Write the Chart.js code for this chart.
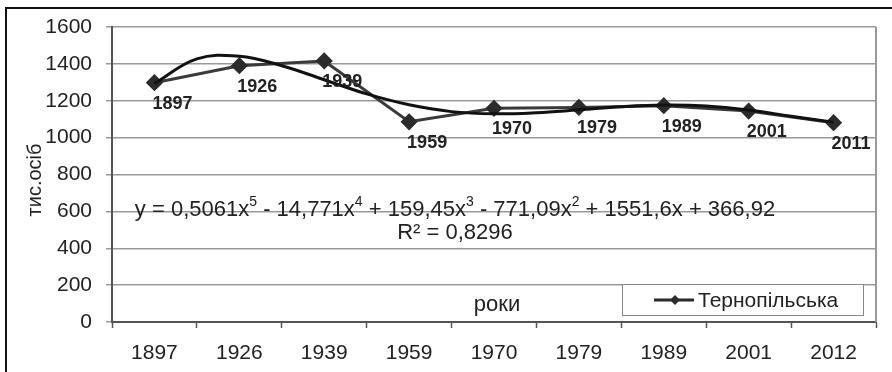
<!DOCTYPE html>
<html>
<head>
<meta charset="utf-8">
<script src="https://cdn.jsdelivr.net/npm/chart.js@4/dist/chart.umd.min.js"></script>
<style>
  html, body { margin: 0; padding: 0; background: #fff; }
  #wrap { width: 892px; height: 372px; position: relative; }
</style>
</head>
<body>
<div id="wrap"><canvas id="myChart" width="892" height="372"></canvas></div>
<script>
// categories on the axis, labels beside each point
const years = ['1897', '1926', '1939', '1959', '1970', '1979', '1989', '2001', '2012'];
const pointLabels = ['1897', '1926', '1939', '1959', '1970', '1979', '1989', '2001', '2011'];
// population, thousand people
const population = [1298, 1390, 1416, 1086, 1159, 1164, 1173, 1144, 1081];
// polynomial trend at half steps
const trendX = [1, 1.5, 2, 2.5, 3, 3.5, 4, 4.5, 5, 5.5, 6, 6.5, 7, 7.5, 8, 8.5, 9];
const trendY = [1293, 1427, 1441, 1390, 1314, 1237, 1178, 1141, 1129, 1135, 1151, 1168, 1177, 1172, 1150, 1116, 1084];
const yTicks = [0, 200, 400, 600, 800, 1000, 1200, 1400, 1600];

const FONT = "'Liberation Sans', Arial, sans-serif";

const extras = {
	id: 'extras',
	afterDraw(chart) {
		const ctx = chart.ctx;
		const meta = chart.getDatasetMeta(1);
		ctx.save();

		// frame
		ctx.strokeStyle = '#111';
		ctx.lineWidth = 2;
		ctx.strokeRect(6, 8, 950, 450);

		// point labels
		ctx.font = 'bold 18px ' + FONT;
		ctx.fillStyle = '#222';
		ctx.textAlign = 'left';
		ctx.textBaseline = 'middle';
		meta.data.forEach((p, i) => {
			ctx.fillText(pointLabels[i], p.x - 2, p.y + 21);
		});

		// axis title
		ctx.save();
		ctx.translate(35, 180);
		ctx.rotate(-Math.PI / 2);
		ctx.textAlign = 'center';
		ctx.font = '20px ' + FONT;
		ctx.fillText('тис.осіб', 0, 0);
		ctx.restore();

		// equation with superscripts
		const parts = [['y = 0,5061x', 0], ['5', 1], [' - 14,771x', 0], ['4', 1], [' + 159,45x', 0], ['3', 1],
			[' - 771,09x', 0], ['2', 1], [' + 1551,6x + 366,92', 0]];
		const big = '22px ' + FONT, small = '14px ' + FONT;
		let total = 0;
		for (let [t, s] of parts) { ctx.font = s ? small : big; total += ctx.measureText(t).width; }
		let x = 455 - total / 2;
		ctx.textAlign = 'left';
		for (let [t, s] of parts) {
			ctx.font = s ? small : big;
			ctx.fillText(t, x, s ? 202 : 210);
			x += ctx.measureText(t).width;
		}
		ctx.font = big;
		ctx.textAlign = 'center';
		ctx.fillText('R² = 0,8296', 455, 233);

		// x title
		ctx.fillText('роки', 497, 305);

		// legend
		ctx.fillStyle = '#fff';
		ctx.fillRect(622, 284, 241, 31);
		ctx.strokeStyle = '#888';
		ctx.lineWidth = 1;
		ctx.strokeRect(622.5, 284.5, 241, 31);
		ctx.strokeStyle = '#2b2b2b';
		ctx.lineWidth = 3;
		ctx.beginPath();
		ctx.moveTo(654, 300);
		ctx.lineTo(694, 300);
		ctx.stroke();
		ctx.fillStyle = '#2b2b2b';
		ctx.beginPath();
		ctx.moveTo(675, 295); ctx.lineTo(680, 300); ctx.lineTo(675, 305); ctx.lineTo(670, 300);
		ctx.closePath();
		ctx.fill();
		ctx.fillStyle = '#222';
		ctx.textAlign = 'left';
		ctx.font = '21px ' + FONT;
		ctx.fillText('Тернопільська', 698, 301);

		ctx.restore();
	}
};

new Chart(document.getElementById('myChart'), {
	type: 'line',
	data: {
		labels: years,
		datasets: [
			{
				label: 'trend',
				data: trendX.map((v, i) => ({ x: v, y: trendY[i] })),
				xAxisID: 'xt',
				borderColor: '#111',
				borderWidth: 3,
				pointRadius: 0,
				tension: 0.4,
				fill: false
			},
			{
				label: 'Тернопільська',
				data: population,
				xAxisID: 'x',
				borderColor: '#3a3a3a',
				borderWidth: 3,
				pointStyle: 'rectRot',
				pointRadius: 6.5,
				pointBackgroundColor: '#2b2b2b',
				pointBorderColor: '#2b2b2b',
				tension: 0
			}
		]
	},
	options: {
		responsive: false,
		animation: false,
		layout: { padding: { top: 27, right: 16, left: 0, bottom: 0 } },
		plugins: { legend: { display: false }, tooltip: { enabled: false } },
		scales: {
			x: {
				type: 'category',
				offset: true,
				border: { color: '#555', width: 2 },
				grid: { drawOnChartArea: false, offset: true, tickLength: 6, color: '#555', tickWidth: 1.5 },
				ticks: { font: { size: 21, family: FONT }, color: '#222', padding: 13, maxRotation: 0 },
				afterFit: s => { s.height = 50; }
			},
			xt: {
				type: 'linear',
				display: false,
				min: 0.5,
				max: 9.5
			},
			y: {
				min: 0,
				max: 1600,
				afterBuildTicks: s => { s.ticks = yTicks.map(v => ({ value: v })); },
				border: { color: '#555', width: 2 },
				grid: { color: '#999', lineWidth: 1.5, tickLength: 6 },
				ticks: { font: { size: 21, family: FONT }, color: '#222', padding: 14, callback: v => String(v) },
				afterFit: s => { s.width = 112; }
			}
		}
	},
	plugins: [extras, {
		id: 'rightBorder',
		beforeDatasetsDraw(chart) {
			const a = chart.chartArea, ctx = chart.ctx;
			ctx.save();
			ctx.strokeStyle = '#999';
			ctx.lineWidth = 2;
			ctx.beginPath();
			ctx.moveTo(a.right, a.top);
			ctx.lineTo(a.right, a.bottom);
			ctx.stroke();
			ctx.restore();
		}
	}]
});
</script>
</body>
</html>
